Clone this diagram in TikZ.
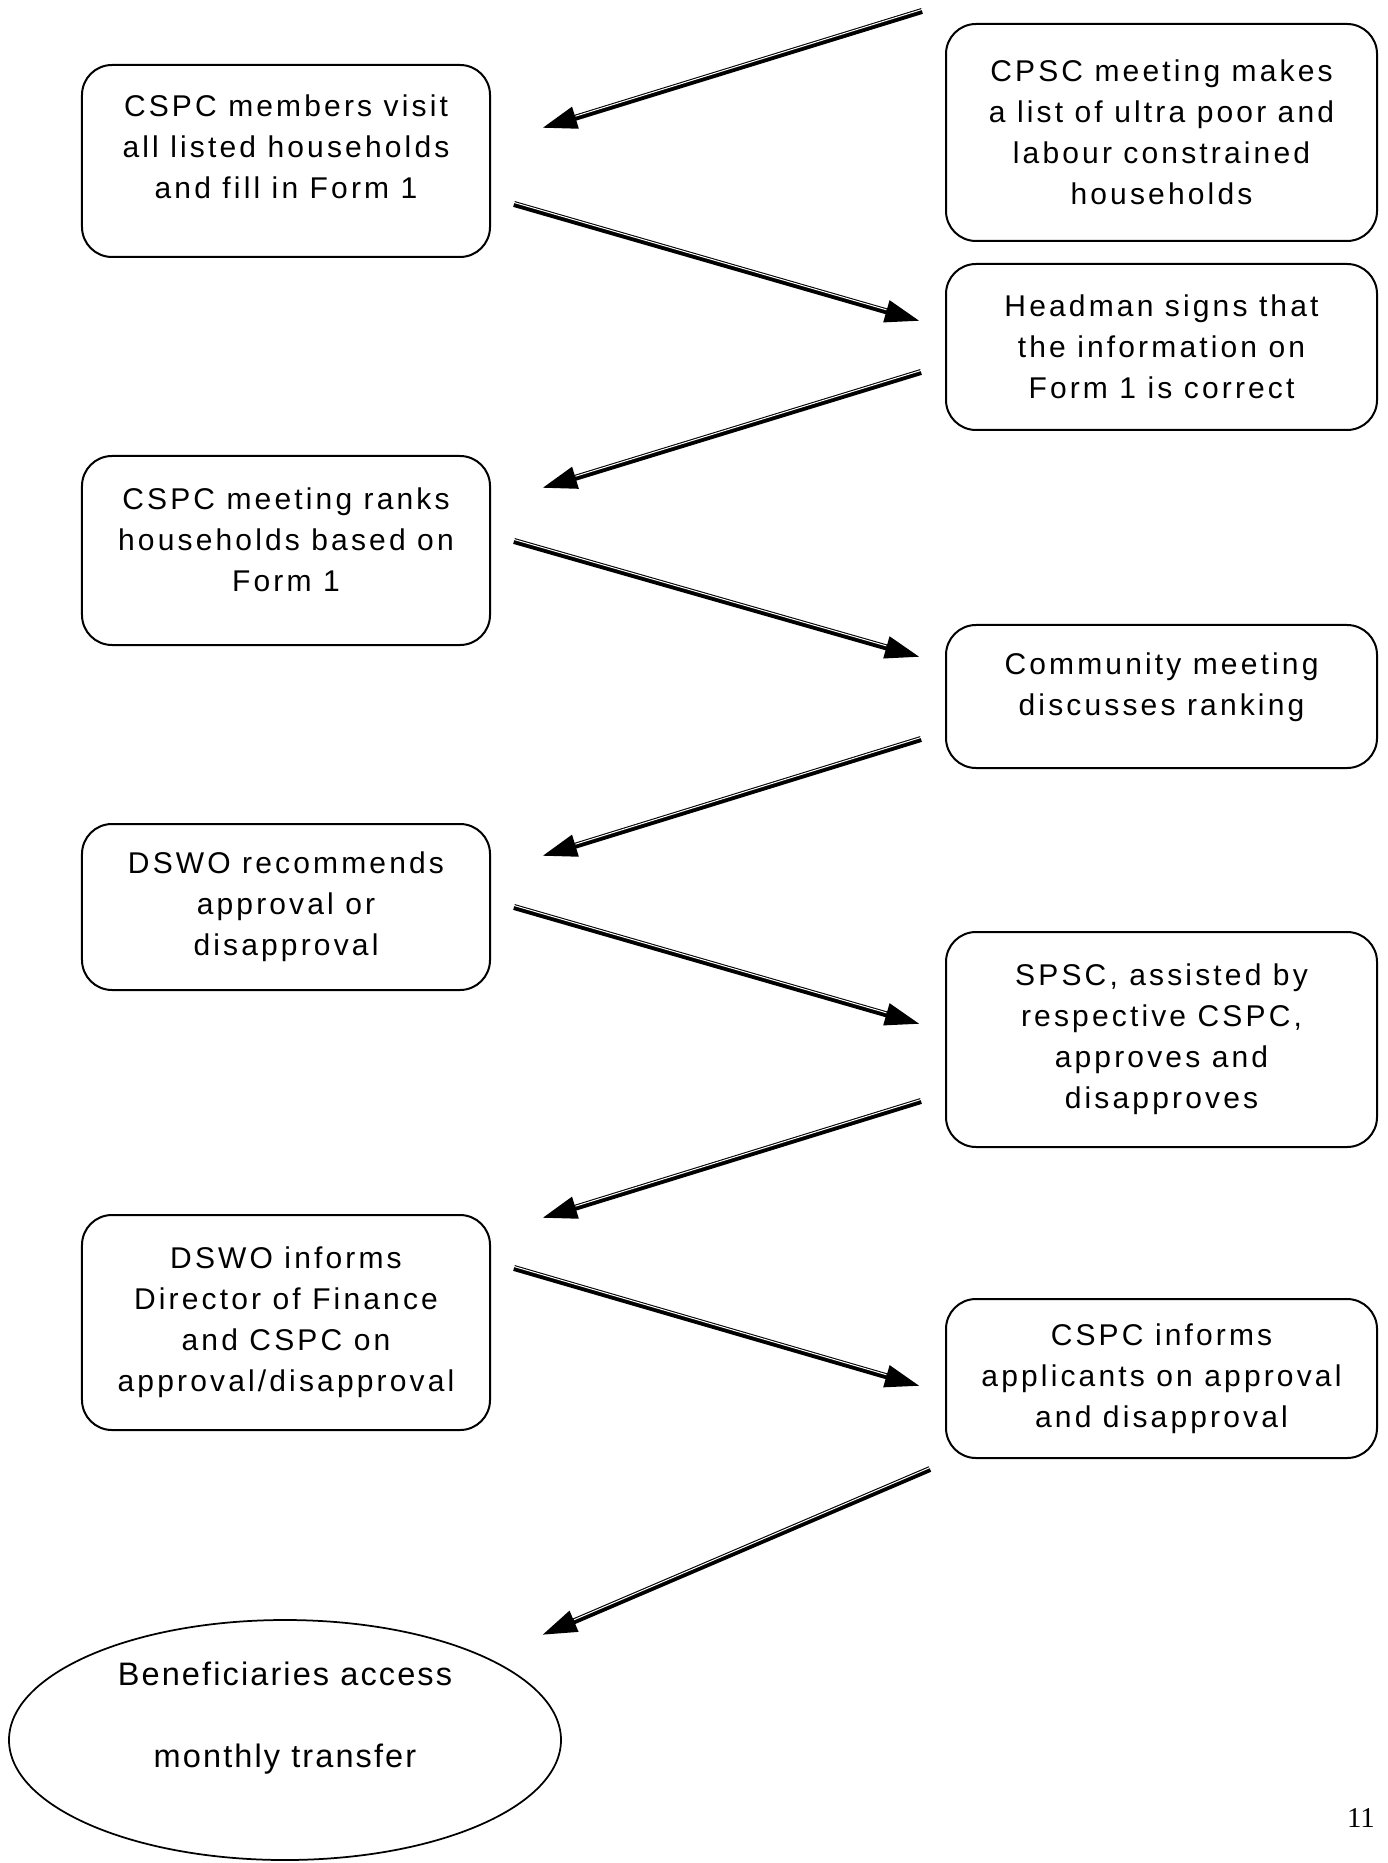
\documentclass[tikz,border=0pt]{standalone}
\usepackage{fontspec}
\usetikzlibrary{arrows.meta,positioning,calc,shapes.geometric}
\newfontfamily\boxfont[LetterSpace=10.5]{Liberation Sans}
\newfontfamily\ovalfont[LetterSpace=6.5]{Liberation Sans}
\newfontfamily\pagefont{Liberation Serif}
\tikzset{
  base/.style={font=\boxfont\fontsize{12}{16.4}\selectfont, align=center, inner sep=2pt, text=black},
  box/.style={base, rectangle, rounded corners=12pt, draw=black, line width=0.8pt},
  lbox/.style={box, minimum width=163.2pt},
  rbox/.style={box, minimum width=172.4pt},
  oval/.style={base, ellipse, draw=black, line width=0.7pt, minimum width=220.8pt, minimum height=96pt, font=\ovalfont\fontsize{13}{32.8}\selectfont},
  arr/.style={-{Triangle[length=14pt,width=8.5pt]}, line width=2.4pt, draw=black,
    postaction={draw=white, line width=0.4pt, -, shorten >=14pt, transform canvas={yshift=0.6pt}}},
  pnum/.style={font=\pagefont\fontsize{11.5}{13}\selectfont, inner sep=0pt},
}
\begin{document}
\begin{tikzpicture}[x=0.4pt, y=-0.4pt]
  \useasboundingbox (0,0) rectangle (1387,1863);
  % right column
  \node[rbox, minimum height=86.8pt] (cpsc) at (1161.5,132.5) {CPSC meeting makes\\a list of ultra poor and\\labour constrained\\households};
  \node[rbox, minimum height=66.4pt] (headman) at (1161.5,347) {Headman signs that\\the information on\\Form 1 is correct};
  \node[rbox, minimum height=57.2pt, text depth=10.1pt] (community) at (1161.5,696.5) {Community meeting\\discusses ranking};
  \node[rbox, minimum height=86pt] (spsc) at (1161.5,1039.5) {SPSC, assisted by\\respective CSPC,\\approves and\\disapproves};
  \node[rbox, minimum height=63.6pt] (applicants) at (1161.5,1378.5) {CSPC informs\\applicants on approval\\and disapproval};
  % left column
  \node[lbox, minimum height=76.8pt, text depth=11.4pt] (visit) at (286,161) {CSPC members visit\\all listed households\\and fill in Form 1};
  \node[lbox, minimum height=75.6pt, text depth=8.6pt] (ranks) at (286,550.5) {CSPC meeting ranks\\households based on\\Form 1};
  \node[lbox, minimum height=66.4pt] (recommend) at (286,907) {DSWO recommends\\approval or\\disapproval};
  \node[lbox, minimum height=86pt] (dswo) at (286,1322.5) {DSWO informs\\Director of Finance\\and CSPC on\\approval/disapproval};
  \node[oval, text depth=20.5pt] (access) at (285,1740) {Beneficiaries access\\monthly transfer};
  \node[pnum] (pagenum) at (1361,1818) {11};
  % arrows
  \coordinate (entry) at (922,11);
  \draw[arr] (entry) -- ($(visit.east)+(51,-33)$);
  \draw[arr] ($(visit.east)+(23,43)$) -- ($(headman.west)+(-25,-26)$);
  \draw[arr] ($(headman.west)+(-24,25)$) -- ($(ranks.east)+(51,-62.5)$);
  \draw[arr] ($(ranks.east)+(23,-9.5)$) -- ($(community.west)+(-25,-39.5)$);
  \draw[arr] ($(community.west)+(-24,42.5)$) -- ($(recommend.east)+(51,-51)$);
  \draw[arr] ($(recommend.east)+(23,0)$) -- ($(spsc.west)+(-25,-15.5)$);
  \draw[arr] ($(spsc.west)+(-24,61.5)$) -- ($(dswo.east)+(51,-104.5)$);
  \draw[arr] ($(dswo.east)+(23,-54.5)$) -- ($(applicants.west)+(-25,7.5)$);
  \draw[arr] ($(applicants.west)+(-15,90.5)$) -- ($(access.east)+(-20,-105)$);
\end{tikzpicture}
\end{document}
